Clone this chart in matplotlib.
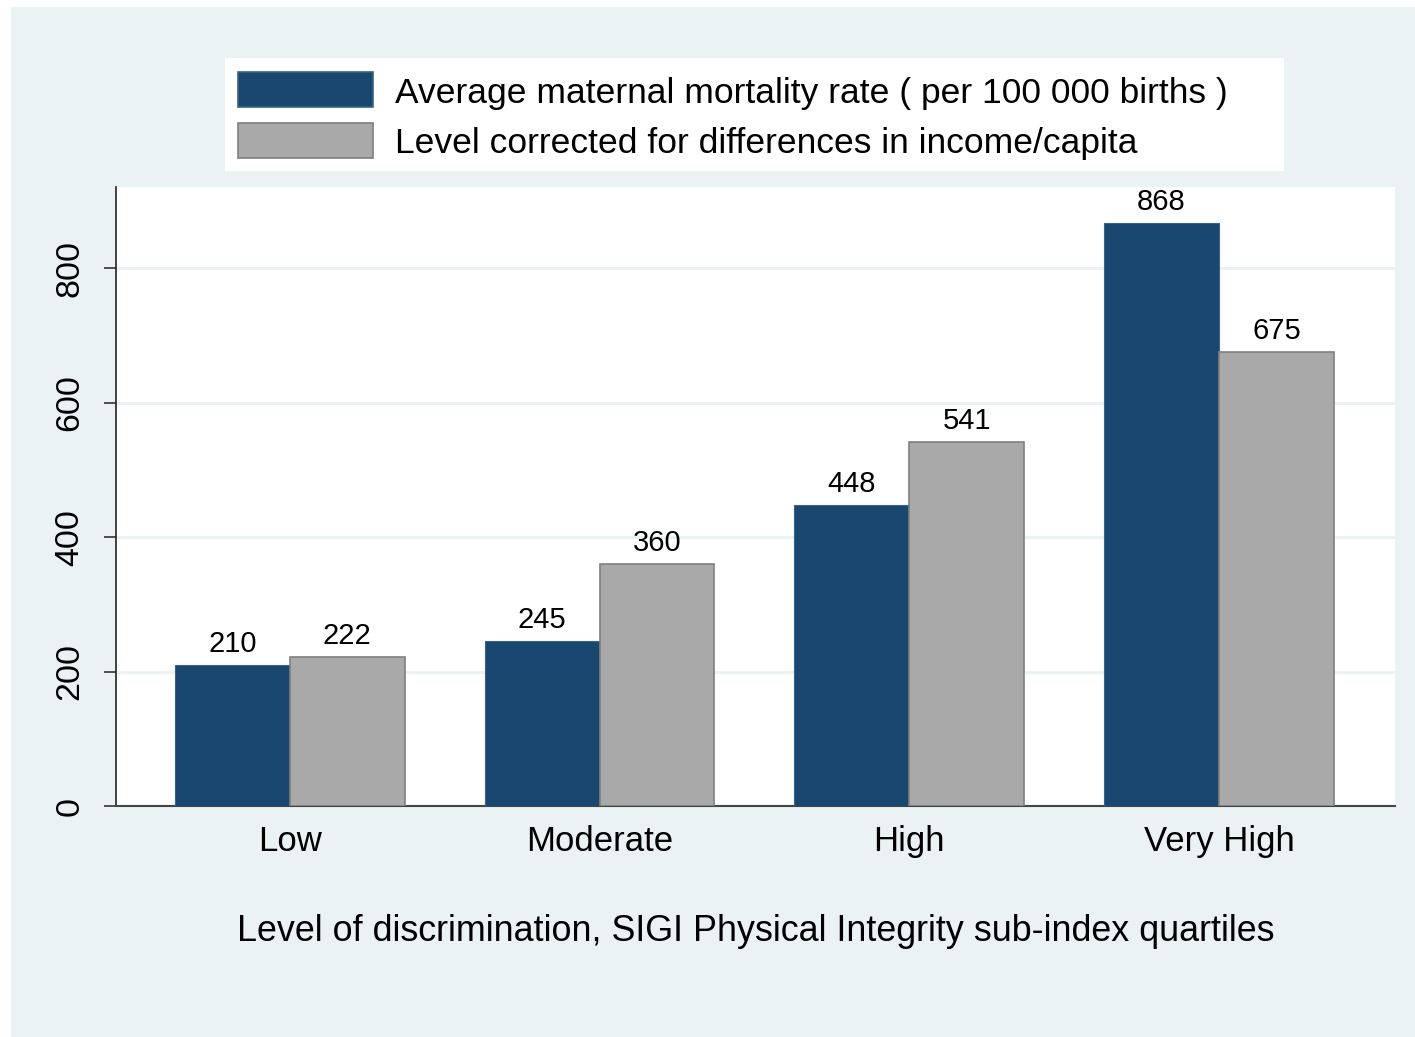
import matplotlib
matplotlib.use("Agg")
import matplotlib.pyplot as plt
from matplotlib.patches import Rectangle
import numpy as np

categories = ["Low", "Moderate", "High", "Very High"]
avg_mmr = [210, 245, 448, 868]
corrected = [222, 360, 541, 675]
series_labels = ["Average maternal mortality rate ( per 100 000 births )",
                 "Level corrected for differences in income/capita"]
yticks = [0, 200, 400, 600, 800]
xlabel = "Level of discrimination, SIGI Physical Integrity sub-index quartiles"

plt.rcParams['font.family'] = ['Liberation Sans', 'DejaVu Sans']

W, H = 1415, 1037
fig = plt.figure(figsize=(W / 100, H / 100), dpi=100)
fig.patch.set_facecolor("white")
bg = "#EAF2F3"
fig.patches.append(Rectangle((11 / W, 0), 1 - 11 / W, 1 - 7 / H, transform=fig.transFigure,
                             facecolor=bg, edgecolor="none", zorder=-10))

left, right, top, bottom = 116, 1395, 187, 806
ax = fig.add_axes([left / W, 1 - bottom / H, (right - left) / W, (bottom - top) / H])
ax.set_facecolor("white")

navy = "#1A476F"
gray = "#A9A9A9"
x = np.arange(len(categories))
bw = 0.371
b1 = ax.bar(x - bw / 2, avg_mmr, width=bw, color=navy, edgecolor="#3a6186", linewidth=0.8, zorder=3)
b2 = ax.bar(x + bw / 2, corrected, width=bw, color=gray, edgecolor="#7f7f7f", linewidth=1.2, zorder=3)

for bars, vals in ((b1, avg_mmr), (b2, corrected)):
    for r, v in zip(bars, vals):
        ax.annotate(f"{v}", (r.get_x() + r.get_width() / 2, v), xytext=(0, 5),
                    textcoords="offset points", ha="center", va="bottom", fontsize=21, color="black")

ax.set_xlim(-0.561, 3.568)
ax.set_ylim(0, 921)
ax.set_yticks(yticks)
ax.set_yticklabels([str(t) for t in yticks], rotation=90, va="center", fontsize=24.5)
ax.set_xticks(x)
ax.set_xticklabels(categories, fontsize=25)
ax.tick_params(axis="x", length=0, pad=14)
ax.tick_params(axis="y", length=9, width=1.2, color="#333333", pad=13)
ax.yaxis.grid(True, color=bg, linewidth=2.2, zorder=0)
ax.set_axisbelow(True)
for s in ("top", "right"):
    ax.spines[s].set_visible(False)
ax.spines["left"].set_color("#222222")
ax.spines["left"].set_linewidth(1.2)
ax.spines["bottom"].set_color("#444444")
ax.spines["bottom"].set_linewidth(1.5)

ax.set_xlabel(xlabel, fontsize=25.8, labelpad=40)

# legend box
fig.patches.append(Rectangle((225 / W, 1 - 171 / H), (1284 - 225) / W, (171 - 58) / H,
                             transform=fig.transFigure, facecolor="white", edgecolor="none", zorder=1))
for (y0, y1), col, ec, lab in (((72, 107), navy, "#3a6186", series_labels[0]),
                               ((123, 158), gray, "#7f7f7f", series_labels[1])):
    fig.patches.append(Rectangle((238 / W, 1 - y1 / H), (373 - 238) / W, (y1 - y0) / H,
                                 transform=fig.transFigure, facecolor=col, edgecolor=ec,
                                 linewidth=1.2, zorder=2))
    fig.text(395 / W, 1 - ((y0 + y1) / 2 + 3.5) / H, lab, fontsize=25.5, va="center", ha="left", zorder=3)

fig.savefig("out.png", dpi=100, facecolor=fig.get_facecolor())
